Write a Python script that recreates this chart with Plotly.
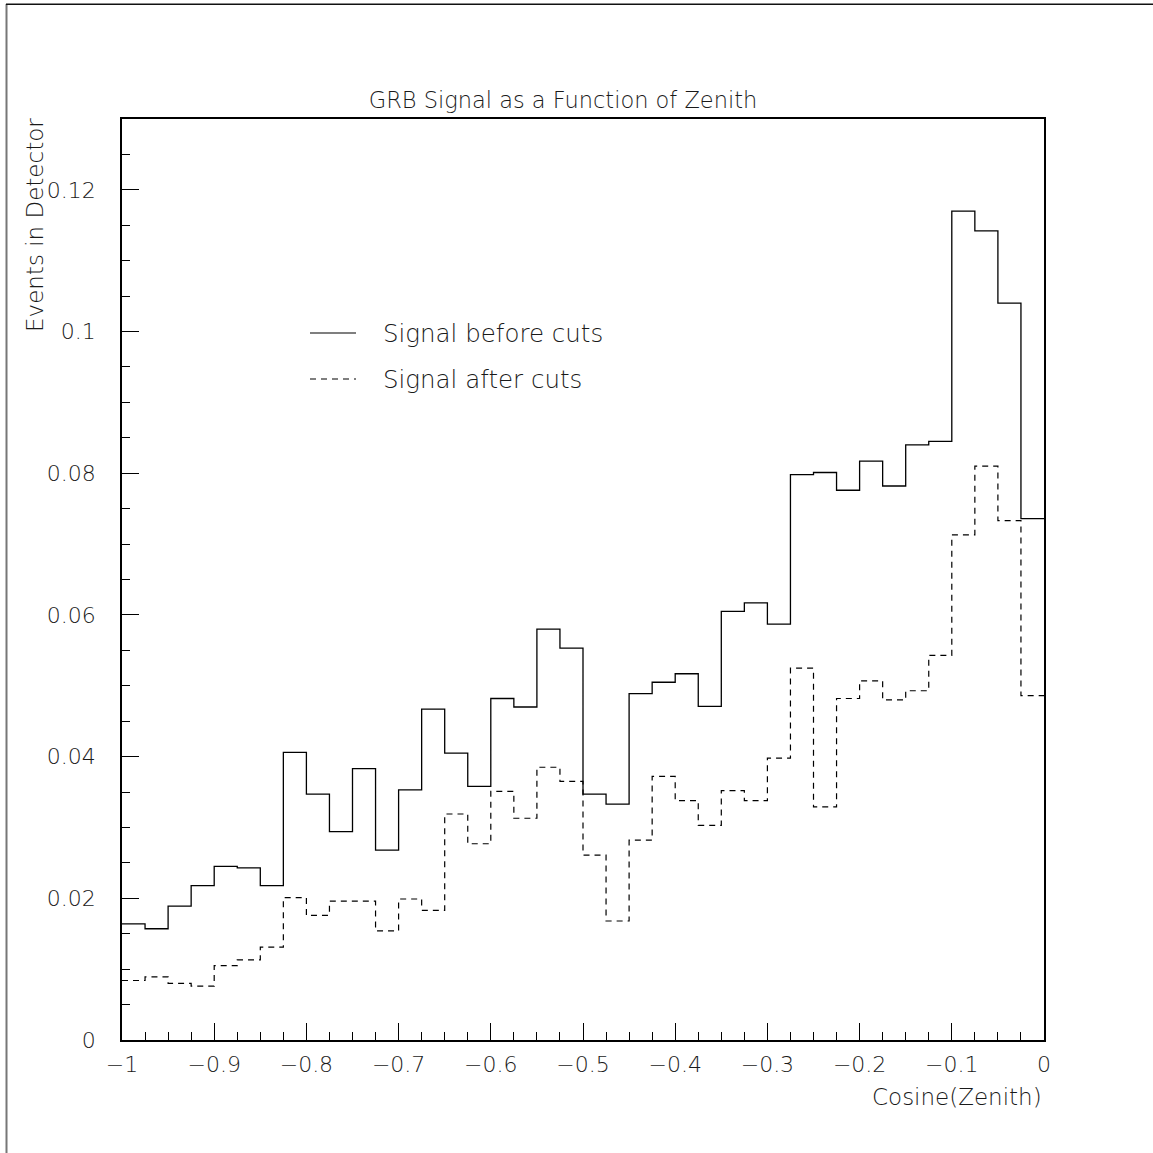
import plotly.graph_objects as go

# Histogram binning: 40 bins of width 0.025 over cos(zenith) in [-1, 0]
bin_lo = -1.0
bin_width = 0.025
n_bins = 40
bin_edges = [round(bin_lo + i * bin_width, 4) for i in range(n_bins + 1)]

# Events in detector per bin
signal_before = [
    0.0164, 0.0157, 0.0189, 0.0218, 0.0245, 0.0243, 0.0218, 0.0406, 0.0347, 0.0294,
    0.0383, 0.0268, 0.0353, 0.0467, 0.0405, 0.0358, 0.0482, 0.0470, 0.0580, 0.0553,
    0.0347, 0.0333, 0.0489, 0.0505, 0.0517, 0.0471, 0.0605, 0.0617, 0.0587, 0.0798,
    0.0801, 0.0776, 0.0817, 0.0782, 0.0840, 0.0845, 0.1170, 0.1142, 0.1040, 0.0736,
]
signal_after = [
    0.0084, 0.0089, 0.0080, 0.0076, 0.0105, 0.0113, 0.0131, 0.0201, 0.0176, 0.0196,
    0.0196, 0.0154, 0.0199, 0.0183, 0.0319, 0.0277, 0.0351, 0.0313, 0.0385, 0.0365,
    0.0261, 0.0168, 0.0282, 0.0372, 0.0338, 0.0303, 0.0352, 0.0338, 0.0398, 0.0525,
    0.0329, 0.0482, 0.0507, 0.0480, 0.0493, 0.0543, 0.0713, 0.0810, 0.0733, 0.0486,
]

series_names = ["Signal before cuts", "Signal after cuts"]
x_ticks = [-1, -0.9, -0.8, -0.7, -0.6, -0.5, -0.4, -0.3, -0.2, -0.1, 0]
x_tick_text = ["\u22121", "\u22120.9", "\u22120.8", "\u22120.7", "\u22120.6", "\u22120.5",
               "\u22120.4", "\u22120.3", "\u22120.2", "\u22120.1", "0"]
y_ticks = [0, 0.02, 0.04, 0.06, 0.08, 0.1, 0.12]
y_tick_text = ["0", "0.02", "0.04", "0.06", "0.08", "0.1", "0.12"]

W = H = 1153
L, R, T, B = 122, 1044, 119, 1040  # plot area in pixels
FONT = "DejaVu Sans ExtraLight, DejaVu Sans, sans-serif"
INK = "#1a1a1a"
WEIGHT = 200


def px(xp):
    return (xp - L) / (R - L)


def py(yp):
    return (B - yp) / (B - T)


def steps(values):
    # repeat last value so the final bin is drawn to its right edge
    return values + [values[-1]]


fig = go.Figure()
fig.add_trace(go.Scatter(
    x=bin_edges, y=steps(signal_before), mode="lines", line_shape="hv",
    line=dict(color="black", width=1.3), name=series_names[0], showlegend=False,
))
fig.add_trace(go.Scatter(
    x=bin_edges, y=steps(signal_after), mode="lines", line_shape="hv",
    line=dict(color="black", width=1.2, dash="6px,5px"), name=series_names[1],
    showlegend=False,
))

axis_common = dict(
    showline=True, linecolor="black", linewidth=1.5, mirror=True,
    ticks="inside", ticklen=17, tickwidth=1.2, tickcolor="black",
    showgrid=False, zeroline=False,
    tickfont=dict(family=FONT, size=22, color=INK, weight=WEIGHT),
)
fig.update_xaxes(
    range=[-1, 0], tickvals=x_ticks, ticktext=x_tick_text,
    minor=dict(dtick=0.025, ticklen=8.5, tickwidth=1.2, tickcolor="black", ticks="inside"),
    ticklabelstandoff=4,
    **axis_common,
)
fig.update_yaxes(
    range=[0, 0.13], tickvals=y_ticks, ticktext=y_tick_text,
    minor=dict(dtick=0.005, ticklen=8.5, tickwidth=1.2, tickcolor="black", ticks="inside"),
    ticklabelstandoff=20,
    **axis_common,
)

# Legend drawn by hand inside the frame
leg_x0, leg_x1, leg_tx = 310, 356, 381
leg_rows = [(333, "solid"), (379, "6px,5px")]
shapes = []
annotations = []
for (yrow, dash), name in zip(leg_rows, series_names):
    shapes.append(dict(type="line", xref="paper", yref="paper",
                       x0=px(leg_x0), x1=px(leg_x1), y0=py(yrow), y1=py(yrow),
                       line=dict(color="black", width=1.2, dash=dash)))
    annotations.append(dict(xref="paper", yref="paper", x=px(leg_tx), y=py(yrow),
                            xanchor="left", yanchor="middle", showarrow=False, text=name,
                            font=dict(family=FONT, size=24.5, color=INK, weight=WEIGHT)))

# Axis titles
annotations.append(dict(xref="paper", yref="paper", x=px(35), y=py(116),
                        xanchor="center", yanchor="top", textangle=-90, showarrow=False,
                        text="Events in Detector",
                        font=dict(family=FONT, size=23, color=INK, weight=WEIGHT)))
annotations.append(dict(xref="paper", yref="paper", x=1.0, y=py(1097),
                        xanchor="right", yanchor="middle", showarrow=False,
                        text="Cosine(Zenith)",
                        font=dict(family=FONT, size=23, color=INK, weight=WEIGHT)))

# Page frame (left and top edges)
shapes.append(dict(type="line", xref="paper", yref="paper",
                   x0=px(6.5), x1=px(6.5), y0=py(4), y1=py(1160),
                   line=dict(color="#777777", width=2)))
shapes.append(dict(type="line", xref="paper", yref="paper",
                   x0=px(6), x1=px(1160), y0=py(4.3), y1=py(4.3),
                   line=dict(color="#111111", width=1.5)))

fig.update_layout(
    width=W, height=H,
    margin=dict(l=L, r=W - R, t=T, b=H - B, autoexpand=False),
    paper_bgcolor="white", plot_bgcolor="white",
    title=dict(text="GRB Signal as a Function of Zenith", xref="container", yref="container",
               x=563 / W, y=1 - 100 / H, xanchor="center", yanchor="middle",
               font=dict(family=FONT, size=22.5, color=INK, weight=WEIGHT)),
    shapes=shapes, annotations=annotations,
    showlegend=False,
)

fig.write_html("out.html")
